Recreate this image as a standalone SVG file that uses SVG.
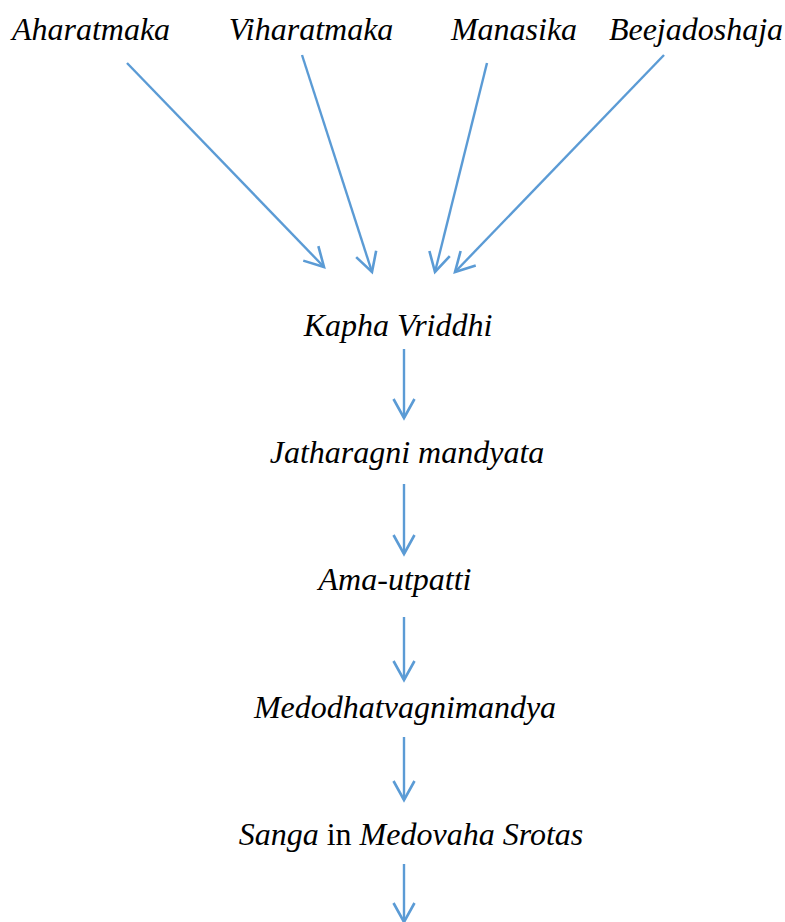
<svg xmlns="http://www.w3.org/2000/svg" width="785" height="922" viewBox="0 0 785 922">
<style>
.t{font-family:"Liberation Serif","Times New Roman",serif;font-size:32px;font-style:italic;fill:#000}
.n{font-style:normal}
.c line{stroke:#5B9BD5;stroke-width:2.4;fill:none;marker-end:url(#ah)}
</style>
<defs>
<marker id="ah" markerUnits="userSpaceOnUse" markerWidth="26" markerHeight="26" viewBox="-23 -13 26 26" refX="0" refY="0" orient="auto">
<path d="M-19,-10.5 L0,0 L-19,10.5" fill="none" stroke="#5B9BD5" stroke-width="2.6" stroke-linejoin="miter"/>
</marker>
</defs>
<rect width="785" height="922" fill="#fff"/>
<g id="aharatmaka"><text class="t" x="91" y="40" text-anchor="middle">Aharatmaka</text></g>
<g id="viharatmaka"><text class="t" x="311" y="40" text-anchor="middle">Viharatmaka</text></g>
<g id="manasika"><text class="t" x="514" y="40" text-anchor="middle">Manasika</text></g>
<g id="beejadoshaja"><text class="t" x="696" y="40" text-anchor="middle">Beejadoshaja</text></g>
<g id="kapha"><text class="t" x="398" y="336" text-anchor="middle">Kapha Vriddhi</text></g>
<g id="jatharagni"><text class="t" x="407" y="463" text-anchor="middle">Jatharagni mandyata</text></g>
<g id="ama"><text class="t" x="395" y="590" text-anchor="middle">Ama-utpatti</text></g>
<g id="medo"><text class="t" x="405" y="718" text-anchor="middle">Medodhatvagnimandya</text></g>
<g id="sanga"><text class="t" x="411" y="845" text-anchor="middle">Sanga<tspan class="n"> in </tspan>Medovaha Srotas</text></g>
<g id="connectors" class="c">
<line x1="127" y1="63" x2="324" y2="267"/>
<line x1="302" y1="55" x2="372" y2="272"/>
<line x1="487" y1="63" x2="435" y2="272"/>
<line x1="664" y1="55" x2="455" y2="272"/>
<line x1="404" y1="349" x2="404" y2="418"/>
<line x1="404" y1="484" x2="404" y2="554"/>
<line x1="404" y1="617" x2="404" y2="680"/>
<line x1="404" y1="737" x2="404" y2="800"/>
<line x1="404" y1="864" x2="404" y2="922"/>
</g>
</svg>
